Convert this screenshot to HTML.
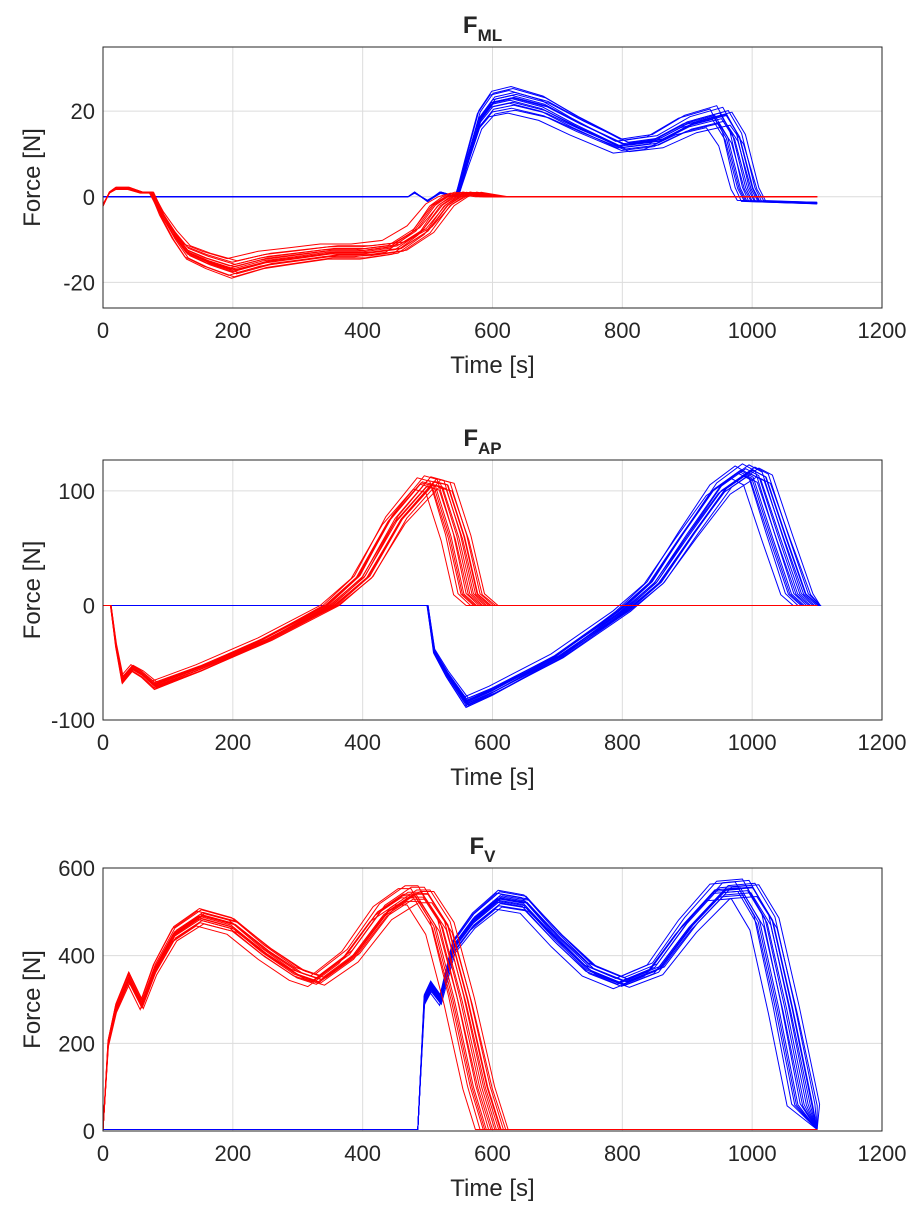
<!DOCTYPE html>
<html><head><meta charset="utf-8">
<style>
body{margin:0;background:#fff;}
svg text{font-family:"Liberation Sans",Arial,sans-serif;fill:#262626;}
</style></head>
<body>
<svg id="chart" width="913" height="1221"></svg>
<script>
// ---- data ----
const xTicks = [0,200,400,600,800,1000,1200];
const trialShift = [-22,-16,-12,-8,-5,-2,0,3,5,8,11,14,17,20,-10,10];
const trialAmp = [0.85,1.08,0.95,1.0,1.12,0.9,1.03,0.96,1.1,0.93,1.0,1.06,0.88,1.04,0.98,1.01];

const mlRedT = [0,10,20,40,60,75,90,110,130,160,200,250,300,350,400,450,490,520,540,560,600,1100];
const mlRedV = [-2,1,2,2,1,1,-4,-9,-13,-15,-17,-15,-14,-13,-13,-12,-8,-2,0,1,0,0];
const mlBlueT = [0,470,480,500,520,545,560,580,600,630,680,730,800,850,900,950,970,990,1000,1100];
const mlBlueV = [0,0,1,-1,1,0,8,18,22,23,21,17,12,13,17,19,14,2,-1,-1.5];
const apRedT = [0,12,20,30,45,60,80,150,250,350,400,450,500,520,545,565,585,1100];
const apRedV = [0,0,-35,-65,-55,-60,-70,-55,-30,0,25,75,108,105,60,10,0,0];
const apBlueT = [0,480,500,510,530,560,600,700,800,850,900,950,990,1010,1040,1070,1090,1100];
const apBlueV = [0,0,0,-40,-60,-85,-75,-45,-5,20,62,102,118,112,60,10,0,0];
const vRedT = [0,8,20,40,60,80,110,150,200,250,300,330,380,430,470,490,520,550,580,600,1100];
const vRedV = [0,200,280,350,290,370,450,490,470,410,360,345,400,500,540,540,470,300,100,0,0];
const vBlueT = [0,485,495,505,520,540,570,610,650,700,750,800,850,900,950,990,1020,1050,1080,1100];
const vBlueV = [0,0,300,330,300,420,480,530,520,440,370,340,370,470,550,555,480,280,60,0];

const panels = [
 {title:"ML", top:47, bot:308, ymin:-26, ymax:35, yTicks:[-20,0,20], ampK:1.0, red:[mlRedT,mlRedV,0], blue:[mlBlueT,mlBlueV,480]},
 {title:"AP", top:460, bot:720, ymin:-100, ymax:127, yTicks:[-100,0,100], ampK:0.4, red:[apRedT,apRedV,0], blue:[apBlueT,apBlueV,480]},
 {title:"V", top:868, bot:1131, ymin:0, ymax:600, yTicks:[0,200,400,600], ampK:0.3, red:[vRedT,vRedV,0], blue:[vBlueT,vBlueV,485]}
];
const L=103,R=882,NS="http://www.w3.org/2000/svg";
const svg=document.getElementById('chart');
function mk(tag,attrs,parent){const e=document.createElementNS(NS,tag);for(const k in attrs)e.setAttribute(k,attrs[k]);(parent||svg).appendChild(e);return e;}
const xs=v=>L+(v-0)/1200*(R-L);

panels.forEach((p,pi)=>{
 const ys=v=>p.bot-(v-p.ymin)/(p.ymax-p.ymin)*(p.bot-p.top);
 const g=mk('g',{});
 
 
 mk('rect',{x:L,y:p.top,width:R-L,height:p.bot-p.top,fill:'#fff'},g);
 xTicks.forEach(t=>{
  mk('line',{x1:xs(t),x2:xs(t),y1:p.top,y2:p.bot,stroke:'#dcdcdc','stroke-width':1},g);
  const tl=mk('text',{x:xs(t),y:p.bot+30,'text-anchor':'middle','font-size':22},g);
  tl.textContent=t;
  
  
 });
 p.yTicks.forEach(t=>{
  mk('line',{x1:L,x2:R,y1:ys(t),y2:ys(t),stroke:'#dcdcdc','stroke-width':1},g);
  const tl=mk('text',{x:L-8,y:ys(t)+8,'text-anchor':'end','font-size':22},g);
  tl.textContent=t;
  
  
 });
 const cid='clip'+pi;
 const cp=mk('clipPath',{id:cid},g);
 mk('rect',{x:L,y:p.top,width:R-L,height:p.bot-p.top},cp);
 const lines=mk('g',{'clip-path':'url(#'+cid+')'},g);
 [['blue','#0000ff'],['red','#ff0000']].forEach(([key,col])=>{
  const [T,V,t0]=p[key];
  trialShift.forEach((sh,i)=>{
   const a=1+(trialAmp[i]-1)*p.ampK;
   const pts=T.map((t,j)=>{
    const tt = t>=1100 ? t : t+sh*Math.max(0,t-t0)/500;
    const yv = Math.min(ys(V[j]*a), p.bot-1.5);
    return xs(Math.min(tt,1105)).toFixed(1)+','+yv.toFixed(1);
   });
   const pl=mk('polyline',{points:pts.join(' '),fill:'none',stroke:col,'stroke-width':1},lines);
   
   
  });
 });
 mk('rect',{x:L,y:p.top,width:R-L,height:p.bot-p.top,fill:'none',stroke:'#262626','stroke-width':1},g);
 const tt=mk('text',{x:(L+R)/2-10,y:p.top-14,'text-anchor':'middle','font-size':24,'font-weight':'bold'},g);
 
 
 tt.innerHTML='F<tspan font-size="17" dy="8">'+p.title+'</tspan>';
 const xl=mk('text',{x:(L+R)/2,y:p.bot+65,'text-anchor':'middle','font-size':24},g);
 xl.textContent='Time [s]';
 
 
 const cy=(p.top+p.bot)/2;
 const yl=mk('text',{x:40,y:cy,'text-anchor':'middle','font-size':24,transform:'rotate(-90 40 '+cy+')'},g);
 yl.textContent='Force [N]';
 
 
});
</script>
</body></html>
